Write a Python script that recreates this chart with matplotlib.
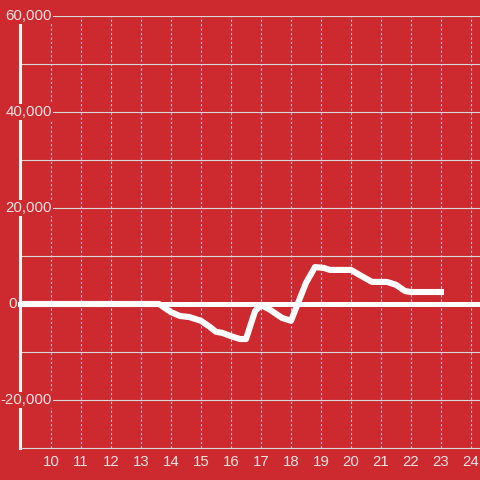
import matplotlib
matplotlib.use("Agg")
import matplotlib.pyplot as plt

# hour of day vs value
hours = [9.0, 13.6, 14.0, 14.3, 14.6, 15.0, 15.3, 15.5, 15.7, 16.0, 16.3, 16.5,
         16.8, 17.0, 17.3, 17.7, 18.0, 18.5, 18.8, 19.1, 19.3, 20.0, 20.3, 20.7,
         21.2, 21.5, 21.8, 22.0, 23.1]
values = [0, 0, -1700, -2500, -2700, -3500, -4800, -5800, -6000, -6700, -7300, -7300,
          -1500, -200, -1200, -2900, -3500, 4400, 7700, 7500, 7100, 7100, 6000, 4600,
          4600, 4000, 2700, 2500, 2500]

x_ticks = list(range(10, 25))
y_ticks = [-20000, 0, 20000, 40000, 60000]
y_labels = ["-20,000", "0", "20,000", "40,000", "60,000"]

bg = "#cc2a2f"
fg = "#f5e4e4"
grid = "#d8d8d8"

plt.rcParams['font.family'] = ['Liberation Sans', 'DejaVu Sans']

fig = plt.figure(figsize=(4.8, 4.8), dpi=100, facecolor=bg)
ax = fig.add_axes([20 / 480, 32 / 480, 460 / 480, 432 / 480])
ax.set_facecolor(bg)
ax.set_xlim(9 - 1 / 30, 24.3)
ax.set_ylim(-30000, 60000)

# horizontal grid every 10,000
for v in range(-20000, 60001, 10000):
    if v == 0:
        ax.axhline(v, xmin=-3 / 460, color="white", lw=3.6, zorder=2, clip_on=False)
    else:
        ax.axhline(v, color=grid, lw=0.8, zorder=1)
for h in x_ticks:
    ax.axvline(h, color=grid, lw=0.8, ls=(0, (2, 2)), zorder=1)

ax.plot(hours, values, color="white", lw=4.4, solid_capstyle="butt",
        solid_joinstyle="round", zorder=3)

for s in ["top", "right"]:
    ax.spines[s].set_visible(False)
ax.spines["left"].set_color("white")
ax.spines["left"].set_linewidth(2.2)
ax.spines["left"].set_zorder(2)
ax.spines["bottom"].set_color(grid)
ax.spines["bottom"].set_linewidth(0.8)

ax.set_xticks(x_ticks)
ax.set_xticklabels([str(h) for h in x_ticks])
ax.tick_params(axis="x", length=0, pad=5, labelsize=10.8, labelcolor=fg)
ax.set_yticks([])

for v, lab in zip(y_ticks, y_labels):
    right = -3 if lab == "0" else 32
    ax.annotate(lab, xy=(0, v), xycoords=("axes fraction", "data"),
                xytext=(right * 0.72, 0), textcoords="offset points",
                ha="right", va="center", fontsize=10.8, color=fg, zorder=4,
                bbox=dict(facecolor=bg, edgecolor="none", pad=1.0))

fig.savefig("out.png", dpi=100, facecolor=bg)
